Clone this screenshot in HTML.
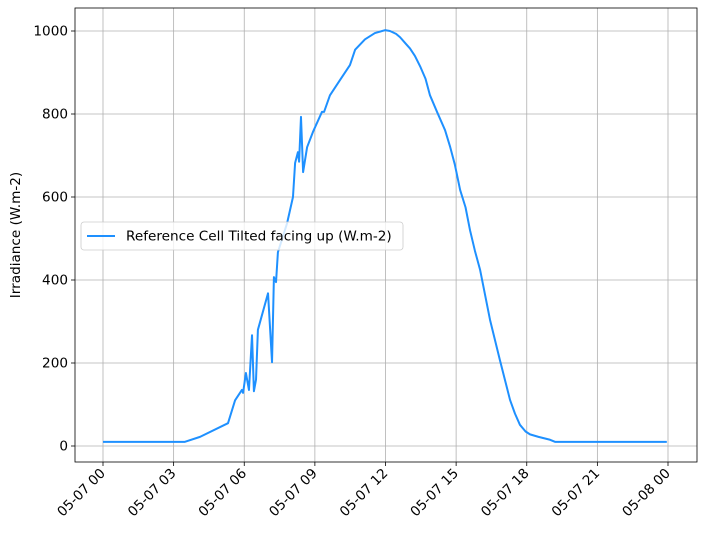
<!DOCTYPE html>
<html><head><meta charset="utf-8"><style>
body{margin:0;background:#fff;width:704px;height:536px;overflow:hidden}
svg text{font-family:"DejaVu Sans","Liberation Sans",sans-serif;font-size:13.6px;fill:#000}
</style></head><body>
<svg id="chart" width="704" height="536" xmlns="http://www.w3.org/2000/svg"></svg>
<script>
const hours=[0,3.48,4.12,5.31,5.61,5.90,5.95,6.07,6.20,6.33,6.41,6.50,6.58,7.01,7.18,7.26,7.35,7.43,7.82,8.07,8.16,8.28,8.33,8.41,8.50,8.67,8.92,9.30,9.39,9.64,10.07,10.49,10.71,11.13,11.55,11.98,12.19,12.45,12.62,12.85,13.04,13.25,13.47,13.70,13.89,14.19,14.53,14.75,14.95,15.17,15.40,15.59,15.80,16.02,16.44,16.86,17.29,17.50,17.71,17.95,18.14,18.50,18.99,19.20,23.95];
const irradiance=[10,10,22,55,110,135,128,176,135,267,132,160,280,368,202,407,395,467,537,600,682,708,685,793,660,720,757,805,805,845,882,918,955,980,995,1002,1000,993,985,970,958,940,915,885,845,805,761,720,677,617,575,520,470,424,304,207,111,78,51,35,28,22,15,10,10];
const yTicks=[0,200,400,600,800,1000];
const xTickHours=[0,3,6,9,12,15,18,21,24];
const xTickLabels=["05-07 00","05-07 03","05-07 06","05-07 09","05-07 12","05-07 15","05-07 18","05-07 21","05-08 00"];
const L=75,R=697,T=8,B=462;
const x=h=>103+h*565/24;
const y=v=>446-v*0.415;
const svg=document.getElementById('chart');
const NS='http://www.w3.org/2000/svg';
function mk(tag,attrs,parent){const e=document.createElementNS(NS,tag);for(const k in attrs)e.setAttribute(k,attrs[k]);(parent||svg).appendChild(e);return e;}
xTickHours.forEach((h,i)=>{
  const g=mk('line',{x1:x(h),x2:x(h),y1:T,y2:B,stroke:'#b0b0b0','stroke-width':0.8});
  
  
  const t=mk('line',{x1:x(h),x2:x(h),y1:B,y2:B+4,stroke:'#000','stroke-width':0.8});
  
  
  const tx=mk('text',{x:x(h)+3,y:B+12,'text-anchor':'end',transform:`rotate(-45 ${x(h)+3} ${B+12})`});
  tx.textContent=xTickLabels[i];
  
  
});
yTicks.forEach(v=>{
  const g=mk('line',{x1:L,x2:R,y1:y(v),y2:y(v),stroke:'#b0b0b0','stroke-width':0.8});
  
  
  const t=mk('line',{x1:L-4,x2:L,y1:y(v),y2:y(v),stroke:'#000','stroke-width':0.8});
  
  
  const tx=mk('text',{x:L-7,y:y(v)+4.5,'text-anchor':'end'});
  tx.textContent=v;
  
  
});
const line=mk('polyline',{points:hours.map((h,i)=>x(h)+','+y(irradiance[i])).join(' '),fill:'none',stroke:'#1e90ff','stroke-width':2,'stroke-linejoin':'round'});


const frame=mk('rect',{x:L,y:T,width:R-L,height:B-T,fill:'none',stroke:'#000','stroke-width':0.8});


const yl=mk('text',{x:20,y:(T+B)/2,'text-anchor':'middle',transform:`rotate(-90 20 ${(T+B)/2})`});
yl.textContent='Irradiance (W.m-2)';


const lg=mk('g',{});


mk('rect',{x:81,y:222,width:322,height:28,rx:3,fill:'#fff','fill-opacity':0.8,stroke:'#ccc','stroke-width':0.8},lg);
const le=mk('line',{x1:87,x2:115,y1:236,y2:236,stroke:'#1e90ff','stroke-width':2},lg);


const lt=mk('text',{x:126,y:240.5},lg);
lt.textContent='Reference Cell Tilted facing up (W.m-2)';


</script>
</body></html>
